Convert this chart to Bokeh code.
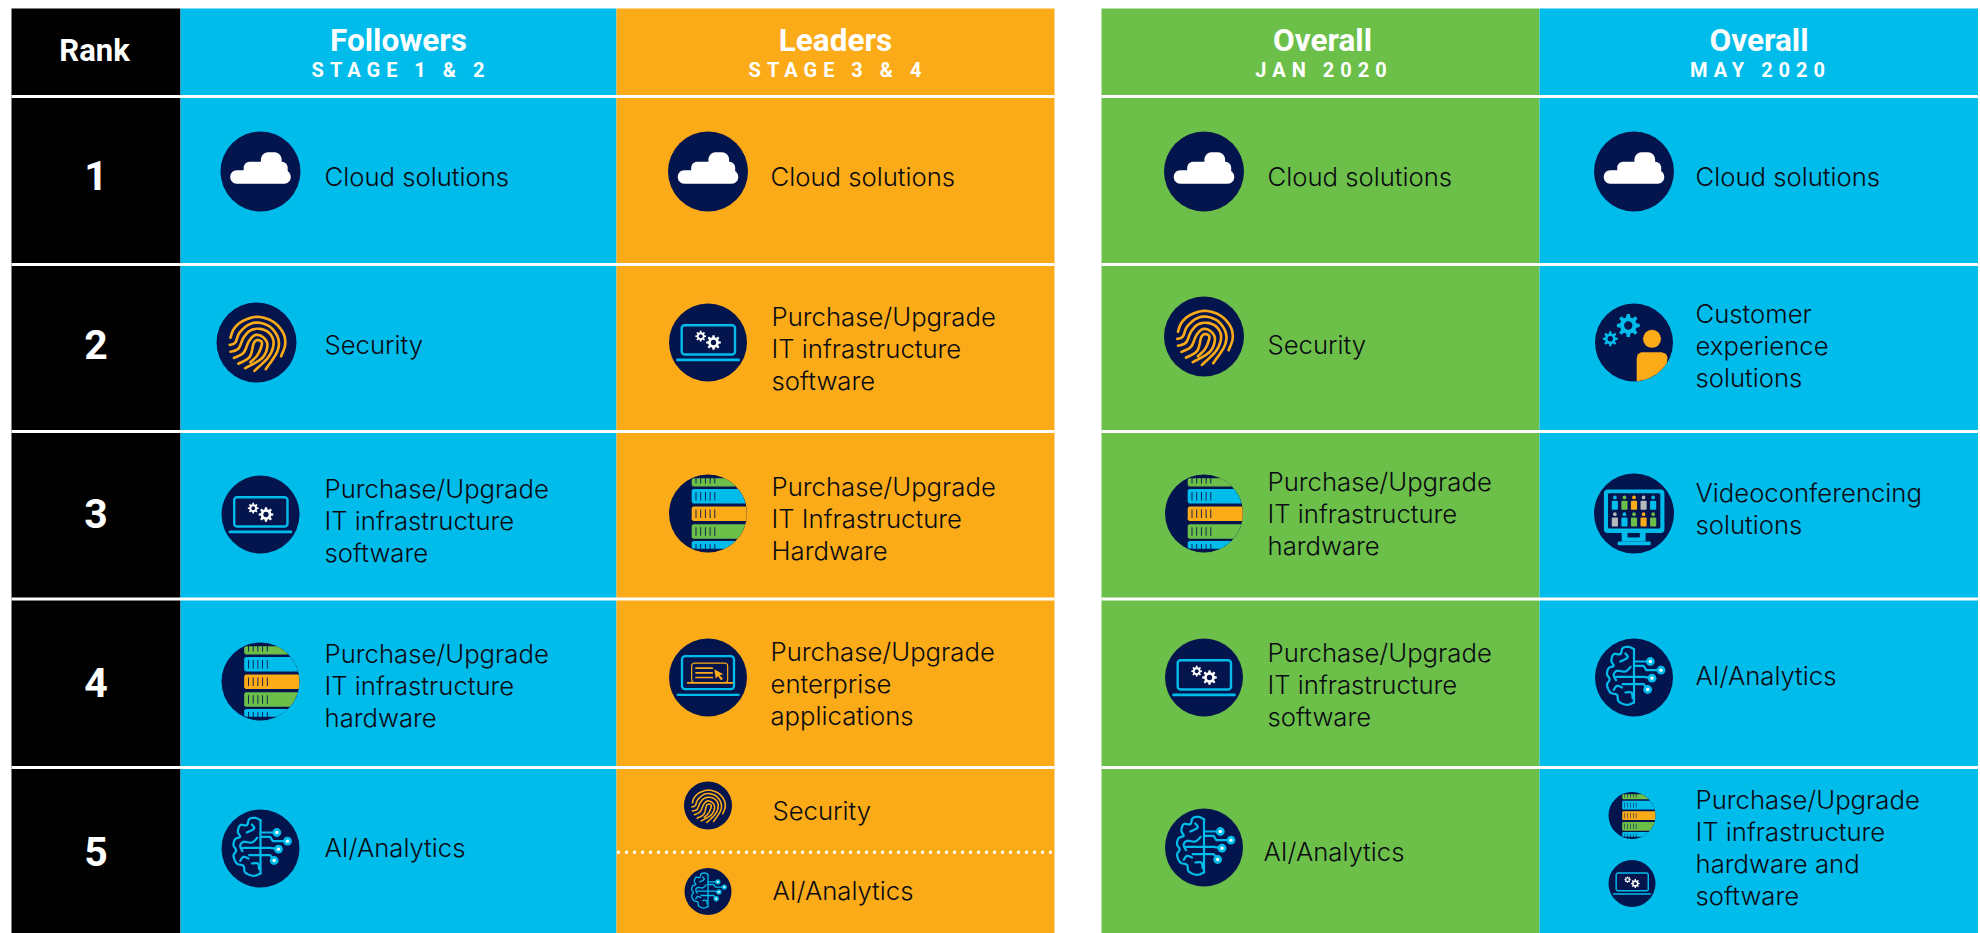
import math
from bokeh.plotting import figure, curdoc
from bokeh.models import Range1d, CustomJS
from bokeh.events import DocumentReady
from bokeh.core.properties import value
from bokeh.embed import file_html
from bokeh.resources import INLINE

# ---------- content ----------
rank_header = "Rank"
ranks = ["1", "2", "3", "4", "5"]
heads = ["Followers", "Leaders", "Overall", "Overall"]
subheads = ["STAGE 1 & 2", "STAGE 3 & 4", "JAN 2020", "MAY 2020"]

followers_topics = ["Cloud solutions", "Security",
                    "Purchase/Upgrade\nIT infrastructure\nsoftware",
                    "Purchase/Upgrade\nIT infrastructure\nhardware", "AI/Analytics"]
followers_icons = ["cloud", "print", "laptop", "server", "brain"]
leaders_topics = ["Cloud solutions", "Purchase/Upgrade\nIT infrastructure\nsoftware",
                  "Purchase/Upgrade\nIT Infrastructure\nHardware",
                  "Purchase/Upgrade\nenterprise\napplications", "Security", "AI/Analytics"]
leaders_icons = ["cloud", "laptop", "server", "apps", "print", "brain"]
jan_topics = ["Cloud solutions", "Security", "Purchase/Upgrade\nIT infrastructure\nhardware",
              "Purchase/Upgrade\nIT infrastructure\nsoftware", "AI/Analytics"]
jan_icons = ["cloud", "print", "server", "laptop", "brain"]
may_topics = ["Cloud solutions", "Customer\nexperience\nsolutions", "Videoconferencing\nsolutions",
              "AI/Analytics", "Purchase/Upgrade\nIT infrastructure\nhardware and\nsoftware"]
may_icons = ["cloud", "customer", "video", "brain", "server", "laptop"]

# ---------- palette ----------
BLUE, ORANGE, GREEN, NAVY, INK = "#00BCEB", "#FBAB18", "#6CC04A", "#04154E", "#0A0A12"
GREY = "#B5B9BE"

# ---------- layout (page pixels) ----------
LEFT, TOP, RIGHT, BOTTOM = 0, 0, 1978, 933
RANK_X = (11, 180)
COL_X = [(180, 616), (616, 1054), (1101, 1539), (1539, 1978)]
COL_FILL = [BLUE, ORANGE, GREEN, BLUE]
RULES_Y = [96, 264, 431, 598.5, 767]
RANK_Y = [175, 344, 513, 682, 851]
PANEL_TOP = 8
HEAD_DX = [0, 0, 2, 0]
SUB_DX = [2.5, 2.5, 3.5, 1.5]

layout = [
    dict(ix=[260, 256, 260, 260, 260], iy=[171, 342, 514, 681, 848], ir=[40, 40, 39, 39, 39],
         tx=[324]*5, ty=[175.8, 343.8, 520.3, 684.8, 847.3]),
    dict(ix=[707.5]*6, iy=[171, 342, 513, 677, 805, 891], ir=[40, 39, 39, 39, 24, 23.5],
         tx=[770, 771, 771, 770, 772, 772], ty=[175.8, 347.8, 517.8, 682.8, 809.8, 889.8]),
    dict(ix=[1203.5]*5, iy=[171, 336, 513, 677, 847], ir=[40, 40, 39, 39, 39],
         tx=[1267, 1267, 1267, 1267, 1263], ty=[175.8, 343.8, 513.3, 684.4, 850.8]),
    dict(ix=[1633.5, 1633.5, 1633.5, 1633.5, 1631.5, 1631.5], iy=[171, 342, 513, 677, 815, 883],
         ir=[40, 39, 40, 39, 23.5, 23.5], tx=[1695]*5, ty=[175.8, 344.8, 507.8, 674.8, 846.8]),
]
topics = [followers_topics, leaders_topics, jan_topics, may_topics]
icons = [followers_icons, leaders_icons, jan_icons, may_icons]

BODY_FONT = value("Inter Light")
HEAD_FONT = value("Roboto")
BODY_SIZE = "25.7px"
LINE_STEP = 32
TRACKING = 6

p = figure(width=RIGHT - LEFT, height=BOTTOM - TOP,
           x_range=Range1d(LEFT, RIGHT), y_range=Range1d(BOTTOM, TOP),
           output_backend="svg", toolbar_location=None,
           x_axis_location=None, y_axis_location=None,
           min_border=0, outline_line_color=None, background_fill_color="white")
p.grid.visible = False

# ---------- drawing helpers ----------
def poly(pts, fill):
    p.patch([a for a, _ in pts], [b for _, b in pts], fill_color=fill, line_color=None)

def line(pts, color, w):
    p.line([a for a, _ in pts], [b for _, b in pts], line_color=color, line_width=w,
           line_cap="round", line_join="round")

def disc(x, y, r, color):
    p.circle(x=[x], y=[y], radius=[r], fill_color=color, line_color=None)

def smooth(pts, n=6):
    out = []
    q = [pts[0]] + list(pts) + [pts[-1]]
    for i in range(1, len(q) - 2):
        p0, p1, p2, p3 = q[i - 1], q[i], q[i + 1], q[i + 2]
        for k in range(n):
            t = k / n
            out.append(tuple(0.5 * (2 * p1[d] + (p2[d] - p0[d]) * t
                                    + (2 * p0[d] - 5 * p1[d] + 4 * p2[d] - p3[d]) * t * t
                                    + (3 * p1[d] - p0[d] - 3 * p2[d] + p3[d]) * t ** 3)
                            for d in (0, 1)))
    out.append(pts[-1])
    return out

def round_rect(x0, y0, x1, y1, r):
    pts = []
    for cx, cy, a0 in ((x1 - r, y0 + r, -90), (x1 - r, y1 - r, 0), (x0 + r, y1 - r, 90), (x0 + r, y0 + r, 180)):
        for k in range(7):
            a = math.radians(a0 + 15 * k)
            pts.append((cx + r * math.cos(a), cy + r * math.sin(a)))
    pts.append(pts[0])
    return pts

class Icon:
    """Local coordinates are pixels of a 39 px radius disc, centred on 0,0."""
    def __init__(self, cx, cy, r):
        self.cx, self.cy, self.s = cx, cy, r / 39
        disc(cx, cy, r, NAVY)
    def T(self, pts):
        return [(self.cx + a * self.s, self.cy + b * self.s) for a, b in pts]
    def poly(self, pts, fill):
        poly(self.T(pts), fill)
    def line(self, pts, color, w):
        line(self.T(pts), color, w * self.s)
    def disc(self, x, y, r, color):
        disc(self.cx + x * self.s, self.cy + y * self.s, r * self.s, color)
    def gear(self, x, y, R, color, hole=NAVY):
        pts = []
        for i in range(8):
            a = i * math.pi / 4
            for da, rr in ((-0.26, .72), (-0.14, 1), (0.14, 1), (0.26, .72)):
                pts.append((x + R * rr * math.cos(a + da), y + R * rr * math.sin(a + da)))
        self.poly(pts, color)
        self.disc(x, y, R * .36, hole)

def Z(pts, c, k=1 / 3):
    return [((a - c[0]) * k, (b - c[1]) * k) for a, b in pts]

def draw_cloud(ic):
    ic.poly(round_rect(-29.5, -1.3, 29.5, 12, 6.5), "white")
    ic.poly(round_rect(-16.4, -9.5, 26.5, 6, 6), "white")
    ic.poly(round_rect(0.4, -18.7, 20.6, 0, 7), "white")

def draw_print(ic):
    c = (168, 160)
    for path in (
        [(92, 146), (102, 120), (128, 97), (170, 85), (215, 98), (245, 130), (252, 165), (240, 200)],
        [(90, 167), (106, 160), (118, 132), (145, 108), (175, 102), (210, 116), (232, 150), (228, 188), (195, 238)],
        [(92, 187), (115, 178), (130, 146), (150, 125), (178, 120), (205, 132), (218, 160), (205, 200), (162, 243)],
        [(102, 205), (130, 190), (146, 156), (165, 138), (188, 145), (200, 168), (185, 205), (135, 235)],
        [(115, 222), (148, 202), (160, 162), (172, 153), (184, 162), (172, 195), (150, 218)],
    ):
        ic.line(smooth(Z(path, c)), ORANGE, 2.6)

def draw_laptop(ic):
    ic.line(round_rect(-26.3, -17.3, 27, 12, 3), BLUE, 2.4)
    ic.line([(-30.5, 17.4), (30.5, 17.4)], BLUE, 2.6)
    ic.gear(-7.3, -6.3, 5.4, "white")
    ic.gear(5.5, 0, 7.4, "white")

def draw_apps(ic):
    c = (144, 160)
    ic.line(Z(round_rect(66, 96, 222, 195, 10), c), BLUE, 2.3)
    ic.line(Z([(53, 212), (236, 212)], c), BLUE, 2.3)
    ic.line(Z(round_rect(95, 117, 203, 175, 8), c), ORANGE, 1.2)
    ic.line(Z([(83, 176), (217, 176)], c), ORANGE, 1.8)
    for y in (132, 146, 160):
        ic.line(Z([(108, y), (157, y)], c), ORANGE, 1.7)
    ic.poly(Z([(163, 135), (190, 150), (179, 153), (189, 164), (183, 168), (174, 156), (167, 163)], c), ORANGE)

def draw_server(ic):
    R = 38.8
    for yc, col in zip((-34.3, -17.2, 0.3, 18, 34.7), (GREEN, BLUE, ORANGE, GREEN, BLUE)):
        xl = -16.3
        y0, y1 = yc - 7.3, yc + 7.3
        lim = math.sqrt(R * R - xl * xl)
        y0, y1 = max(y0, -lim), min(y1, lim)
        ys = [y0 + (y1 - y0) * i / 12 for i in range(13)]
        pts = [(math.sqrt(R * R - y * y), y) for y in ys]
        pts += [(xl + 1.5, y1), (xl, y1 - 1.5), (xl, y0 + 1.5), (xl + 1.5, y0)]
        ic.poly(pts, col)
        for i in range(5):
            x = -12 + 4.7 * i
            t0, t1 = max(yc - 4.3, -math.sqrt(R * R - x * x)), min(yc + 4.3, math.sqrt(R * R - x * x))
            ic.poly([(x - .45, t0), (x + .45, t0), (x + .45, t1), (x - .45, t1)], NAVY)

def draw_brain(ic):
    c = (176, 160)
    w = 2.2
    outline = [(176, 75), (160, 68), (142, 72), (135, 90), (115, 90), (108, 110), (115, 125),
               (100, 132), (95, 150), (103, 166), (95, 182), (105, 205), (125, 212), (130, 232), (155, 242), (176, 235)]
    ic.line(smooth(Z(outline, c)), BLUE, w)
    ic.line(Z([(176, 75), (176, 235)], c), BLUE, w)
    for path in ([(150, 88), (157, 100), (135, 112)],
                 [(166, 128), (150, 142), (125, 140), (115, 152), (122, 168)],
                 [(115, 197), (125, 185), (140, 190)],
                 [(150, 205), (168, 205), (172, 222)]):
        ic.line(smooth(Z(path, c)), BLUE, w)
    for path in ([(176, 112), (225, 112)],
                 [(176, 125), (205, 125), (213, 138), (257, 138)],
                 [(122, 158), (205, 158), (230, 162)],
                 [(176, 180), (205, 180), (217, 196)],
                 [(142, 180), (176, 180)]):
        ic.line(Z(path, c), BLUE, w)
    for x, y in ((225, 112), (257, 138), (230, 162), (217, 196)):
        a, b = Z([(x, y)], c)[0]
        ic.disc(a, b, 4.4, BLUE)
        ic.disc(a, b, 1.7, "white")

def draw_customer(ic):
    ic.gear(-5.7, -17, 11.5, BLUE)
    ic.gear(-23.7, -3.7, 7.5, BLUE)
    ic.disc(18, -3.7, 9, ORANGE)
    R = 38.7
    arc = []
    for i in range(15):
        x = 33 + (2.7 - 33) * i / 14
        arc.append((x, math.sqrt(R * R - x * x)))
    ic.poly([(2.7, 16), (3.6, 12), (7, 9.7), (28, 9.7), (32, 11.5), (33.5, 15)] + arc, ORANGE)

def draw_video(ic):
    c = (281, 733)
    ic.poly(Z(round_rect(193, 663, 370, 790, 10), c), BLUE)
    ic.poly(Z(round_rect(205, 674, 358, 777, 4), c), NAVY)
    ic.poly(Z([(245, 790), (315, 790), (315, 815), (245, 815)], c), BLUE)
    ic.poly(Z([(262, 790), (298, 790), (298, 803), (262, 803)], c), NAVY)
    ic.poly(Z(round_rect(233, 815, 330, 826, 4), c), BLUE)
    rows = ((686, (BLUE, GREEN, ORANGE, GREY, BLUE)), (735, (GREY, BLUE, GREEN, ORANGE, GREEN)))
    for yh, cols in rows:
        for x, col in zip((225, 253, 281, 309, 337), cols):
            a, b = Z([(x, yh)], c)[0]
            ic.disc(a, b, 1.8, col)
            ic.poly(Z(round_rect(x - 9, yh + 10, x + 9, yh + 36, 2.5), c), col)

DRAW = dict(cloud=draw_cloud, print=draw_print, laptop=draw_laptop, apps=draw_apps,
            server=draw_server, brain=draw_brain, customer=draw_customer, video=draw_video)

# ---------- blocks ----------
p.quad(left=[RANK_X[0]], right=[RANK_X[1]], top=[PANEL_TOP], bottom=[BOTTOM], fill_color="black", line_color=None)
p.quad(left=[a for a, _ in COL_X], right=[b for _, b in COL_X], top=[PANEL_TOP] * 4, bottom=[BOTTOM] * 4,
       fill_color=COL_FILL, line_color=None)

# ---------- rules ----------
for y in RULES_Y:
    p.line([RANK_X[0], COL_X[1][1]], [y, y], line_color="white", line_width=3)
    p.line([COL_X[2][0], COL_X[3][1]], [y, y], line_color="white", line_width=3)
p.line([618, COL_X[1][1]], [851.7, 851.7], line_color="white", line_width=3.4, line_dash="0 8", line_cap="round")

# ---------- headers ----------
def head_text(x, y, txt, size, **kw):
    p.text(x=[x], y=[y], text=[txt], text_font=HEAD_FONT, text_font_size=size, text_font_style="bold",
           text_color="white", text_align="center", text_baseline="middle", **kw)

rank_cx = sum(RANK_X) / 2
head_text(rank_cx - 1.5, 50, rank_header, "31px")
for r, y in zip(ranks, RANK_Y):
    head_text(rank_cx, y, r, "41px")
for (a, b), h, s, hd, sd in zip(COL_X, heads, subheads, HEAD_DX, SUB_DX):
    cx = (a + b) / 2
    head_text(cx + hd, 40, h, "31.5px")
    head_text(cx + sd - TRACKING * len(s) / 2, 69.5, s, "20px")

# ---------- cells ----------
for col_topics, col_icons, lay in zip(topics, icons, layout):
    for key, x, y, r in zip(col_icons, lay["ix"], lay["iy"], lay["ir"]):
        DRAW[key](Icon(x, y, r))
    for txt, x, yc in zip(col_topics, lay["tx"], lay["ty"]):
        rows = txt.split("\n")
        y0 = yc - LINE_STEP * (len(rows) - 1) / 2
        for i, row in enumerate(rows):
            p.text(x=[x], y=[y0 + i * LINE_STEP], text=[row], text_font=BODY_FONT, text_font_size=BODY_SIZE,
                   text_color=INK, text_align="left", text_baseline="middle")

# Tracked-out sub-headings: CSS letter spacing on the real SVG text elements.
track = CustomJS(code="""
function walk(root){
  root.querySelectorAll('*').forEach(el=>{
    if(el.tagName==='text' && /^(STAGE|JAN|MAY)/.test(el.textContent)) el.style.letterSpacing='%dpx';
    if(el.shadowRoot) walk(el.shadowRoot);
  });
}
let n=0; const t=setInterval(()=>{walk(document); if(++n>30) clearInterval(t);},100);
""" % TRACKING)
curdoc().add_root(p)
curdoc().js_on_event(DocumentReady, track)

open("out.html", "w").write(file_html(p, INLINE))
